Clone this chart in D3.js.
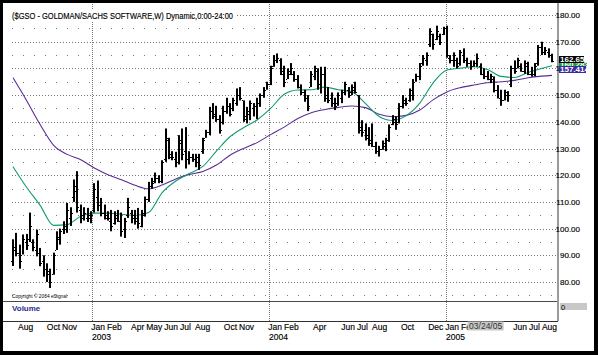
<!DOCTYPE html>
<html><head><meta charset="utf-8">
<script src="https://cdn.jsdelivr.net/npm/d3@7"></script>
<style>body{margin:0;background:#000}svg{display:block}</style>
</head><body><svg id="c" width="598" height="355"></svg>
<script>
// ---------------- DATA ----------------
const title = "($GSO - GOLDMAN/SACHS SOFTWARE,W) Dynamic,0:00-24:00";
const firstWeek = "2002-07-22"; // weekly bars, one per week
// [open, high, low, close]
const ohlc = [
[88,96,86,93],[92,98.4,89.6,91],[91,94,85,88],[90,97.8,90.3,96],[95,98,92,94],
[96,106,95,101],[95,96,91.5,93],[92,99.6,89.6,98],[91,92.75,85.9,87],[88,90,82,85],
[85,87,80,83],[84,85,77.75,80],[83,91,82.75,90],[92,99,92,97],[96,100,94,99],
[100,102.75,98,101],[100,109.6,98.4,107],[104,108,101,106],[112,118.4,110,116],[114,121.5,106,108],
[107,109,102,104],[105,108,103,106],[104,107.75,102.5,105],[104,106.5,102,105],[107,117,106,115],
[112,118,106.5,109],[109,111.5,104.6,106],[106,109,103.4,105],[104,106.5,103,104],[103,107,99,101],
[102,106.5,101.5,105],[104,107,102.5,103],[103,106,97,99],[100,104,96.5,103],[105,111.5,104,108],
[106,107,102,104],[105,107,101.5,103],[104,107.75,100,102],[101,107,100.5,106],[105,112,104.5,111],
[111,117.5,110,116],[116,119,115,117],[118,121,117,119],[119,120,117,118],[118,125.6,117,125],
[126,137.5,125,134],[133,134,126,128],[127,129,125.6,127],[126,128.75,123,125],[125,135,124,133],
[132,137.5,125.6,128],[129,138,122.5,126],[126,129,124,127],[127,128,125,126],[126,128,123,127],
[125,128,122,124],[129,134,128,133],[134,137,134,136],[136,145.6,135,144],[144,147,141,142],
[143,146,140,141],[141,142.5,135.6,137],[140,146,139,144],[144,149,143,146],[146,147,142,143],
[145,149,144,148],[147,152.5,146,150],[150,153,148,149],[148,148,140,141],[142,145.6,139.4,144],
[143,148,140.6,147],[145,147,142,146],[146,149,141,147],[147,150.6,145.6,150],[150,153,149,152],
[152,155,152,154],[154,161,153.75,160],[161,165,160.6,163],[163,165.6,162,164],[163,163.8,157.5,158],
[159,161,153,155],[156,160,156,159],[158,162,157.5,160],[158,159,155,156],[156,157.5,152.5,153],
[153,154,150,151],[151,152,147.5,149],[149,150,144,146],[153,159,153,158],[157,161,155.6,160],
[159,160,152,154],[154,160.6,150.6,158],[158,160.6,147.5,149],[150,153,147,148],[149,151,145.6,147],
[147,149,144.4,146],[147,151,146,150],[149,152,147,151],[151,155,150,154],[152,153,149,150],
[151,154,150,153],[152,155,150.6,151],[150,150,135.6,137],[138,140.6,134.4,136],[137,139.4,133,134],
[135,138,131,132],[133,139.4,130.6,131],[131,132.5,128,129],[129,131,127,130],[130,133,129.5,132],
[131,134,129,133],[133,139,132.5,138],[139,142.5,138.75,141],[140,142,137,139],[140,147,139.4,146],
[146,150,145,148],[147,149,146,147],[148,152.5,147.5,152],[150,156,148,155],[155,158,155,157],
[157,162,155.6,161],[162,165,161,164],[163,166,161,165],[169,175,168,174],[173,173,167,169],
[171,176,170.6,174],[172,173,168.75,170],[173,175.6,172.5,175],[175,176,164,165],[164,165,161.9,163],
[163,166,160.6,165],[163,164,160,161],[162,166.9,161,166],[165,167.5,162,163],[163,164,160.6,162],
[162,163,159.5,161],[161,163,160.6,162],[162,165.6,160.6,164],[161,161.9,157.5,158],[158,160,156,157],
[157,159,155.6,156],[156,158,154.5,157],[156,157,151,152],[152,153.75,148.75,149],[149,152,146,148],
[148,152,148,151],[150,151.5,147.5,150],[154,161,153,160],[160,163,158,159],[160,164,160,163],
[161,161.9,158.75,159],[159,163,158,162],[161,162.5,157.5,158],[158,160.6,156.9,158],[158,162,157,161],
[162,168.75,161,168],[168,170,165,166],[166,168,165,167],[166,167.5,164,165],[165,165.5,162.3,162.65]
];
// moving averages, sampled at these bar indices
const maIndex = [0,4,8,12,16,20,24,28,32,36,40,44,48,52,56,60,64,68,72,76,80,84,88,92,96,100,104,108,112,116,120,124,128,132,136,140,144,148,152,156,159];
const maFast = [123.2,115.5,108.7,101.2,101.5,104.6,105.8,105.8,105.4,104.9,106,113.5,117.8,120.6,123.3,129,134.4,137.8,140.7,145,150.3,151.9,152,153,152,151.2,146.8,142,140.5,142.3,147,154.7,159.4,160.1,160.6,159.6,157,156.6,158.5,160,161];
const maSlow = [156.5,148,139,131.2,127.8,125.8,122.7,120.2,118.3,116.2,114.9,116.3,118.6,120.3,121.4,123.8,127.5,130,132.2,135.2,138,141.2,143.4,144.6,145.4,145.9,145.3,142.8,141.9,142.4,144.4,148.3,151.2,152.8,153.8,154.6,155,155.5,156.5,157.1,157.4];
const priceTicks = [80,90,100,110,120,130,140,150,160,170,180];
const minorTicks = [75,85,95,105,115,125,135,145,155,165,175];
const monthLabels = [["2002-08","Aug"],["2002-10","Oct"],["2002-11","Nov"],["2003-01","Jan"],["2003-02","Feb"],
 ["2003-04","Apr"],["2003-05","May"],["2003-06","Jun"],["2003-07","Jul"],["2003-08","Aug"],["2003-10","Oct"],
 ["2003-11","Nov"],["2004-01","Jan"],["2004-02","Feb"],["2004-04","Apr"],["2004-06","Jun"],["2004-07","Jul"],
 ["2004-08","Aug"],["2004-10","Oct"],["2004-12","Dec"],["2005-01","Jan"],["2005-02","Feb"],["2005-06","Jun"],
 ["2005-07","Jul"],["2005-08","Aug"]];
const yearLabels = [["2003-01","2003"],["2004-01","2004"],["2005-01","2005"]];
const cursorDate = "2005-03-24";
const cursorLabel = "03/24/05";
const lastClose = "162.65", lastFast = "160.283", lastSlow = "157.414";

// ---------------- DRAW ----------------
const FONT = "'Liberation Sans Narrow','Liberation Sans',Arial,sans-serif";
const svg = d3.select("#c").style("font-family", FONT);
svg.append("rect").attr("width",598).attr("height",355).attr("fill","#000");
svg.append("rect").attr("x",3).attr("y",3).attr("width",591).attr("height",348).attr("fill","#fff");

const parseDay = d3.utcParse("%Y-%m-%d"), parseMonth = d3.utcParse("%Y-%m");
const t0 = parseDay(firstWeek);
const dates = ohlc.map((d,i)=>d3.utcDay.offset(t0, 7*i));
const x = d3.scaleUtc().domain([dates[0], dates[dates.length-1]]).range([13,552]);
const y = d3.scaleLinear().domain([80,180]).range([282,15]);
const AX = 558;

// horizontal grid
svg.append("g").selectAll("line").data(priceTicks).join("line")
  .attr("x1",12).attr("x2",556).attr("y1",d=>Math.round(y(d))+0.5).attr("y2",d=>Math.round(y(d))+0.5)
  .attr("stroke","#7a7a7a").attr("stroke-dasharray","1,2");
svg.append("g").selectAll("line").data(minorTicks).join("line")
  .attr("x1",12).attr("x2",556).attr("y1",d=>Math.round(y(d))+0.5).attr("y2",d=>Math.round(y(d))+0.5)
  .attr("stroke","#7a7a7a").attr("stroke-dasharray","1,10");
// year lines
svg.append("g").selectAll("line").data(yearLabels).join("line")
  .attr("x1",d=>Math.round(x(parseMonth(d[0])))+0.5).attr("x2",d=>Math.round(x(parseMonth(d[0])))+0.5)
  .attr("y1",4).attr("y2",321).attr("stroke","#7a7a7a").attr("stroke-dasharray","1,1");

// title
svg.append("rect").attr("x",9).attr("y",10).attr("width",228).attr("height",11).attr("fill","#fff");
svg.append("text").attr("x",12).attr("y",18.5).attr("font-size",8.5).attr("fill","#000")
  .attr("stroke","#000").attr("stroke-width",0.15)
  .attr("textLength",221).attr("lengthAdjust","spacingAndGlyphs").text(title);

// moving averages
const line = d3.line().x((v,i)=>x(dates[maIndex[i]])).y(v=>y(v)).curve(d3.curveMonotoneX);
svg.append("path").attr("d",line(maSlow)).attr("fill","none").attr("stroke","#5a2d96").attr("stroke-width",1.1);
svg.append("path").attr("d",line(maFast)).attr("fill","none").attr("stroke","#0f9a72").attr("stroke-width",1.1);

// OHLC bars
const bars = svg.append("g");
ohlc.forEach((d,i)=>{
  const px = Math.round(x(dates[i]));
  bars.append("rect").attr("x",px-1).attr("y",y(d[1])).attr("width",2).attr("height",Math.max(1,y(d[2])-y(d[1]))).attr("fill","#000");
  bars.append("rect").attr("x",px-2).attr("y",Math.round(y(d[0]))).attr("width",1).attr("height",1).attr("fill","#000");
  bars.append("rect").attr("x",px+1).attr("y",Math.round(y(d[3]))).attr("width",1).attr("height",1).attr("fill","#000");
});

// panel separators and axis
svg.append("line").attr("x1",3).attr("x2",AX).attr("y1",301.5).attr("y2",301.5).attr("stroke","#4a4a40");
svg.append("line").attr("x1",3).attr("x2",AX).attr("y1",321.5).attr("y2",321.5).attr("stroke","#303030");
svg.append("line").attr("x1",AX).attr("x2",AX).attr("y1",3).attr("y2",321).attr("stroke","#9a9a9a").attr("stroke-width",2);

// copyright, volume
svg.append("text").attr("x",12).attr("y",297.5).attr("font-size",5).attr("textLength",55)
  .attr("lengthAdjust","spacingAndGlyphs").text("Copyright \u00A9 2004 eSignal");
svg.append("text").attr("x",12).attr("y",311).attr("font-size",8).attr("font-weight","bold")
  .attr("fill","#2b2b8c").text("Volume");
svg.append("rect").attr("x",560).attr("y",303).attr("width",27).attr("height",7).attr("fill","#c8c8c8");
svg.append("text").attr("x",561).attr("y",309.5).attr("font-size",7.5).text("0");

// price axis labels
svg.append("g").selectAll("text").data(priceTicks).join("text")
  .attr("x",580).attr("y",d=>y(d)+3).attr("text-anchor","end").attr("font-size",8).attr("fill","#000")
  .attr("stroke","#000").attr("stroke-width",0.15)
  .text(d=>d.toFixed(2));

// last value boxes
function valBox(yy,h,w,bg,txt){
  svg.append("rect").attr("x",559).attr("y",yy).attr("width",w).attr("height",h).attr("fill",bg);
  svg.append("text").attr("x",560).attr("y",yy+h-0.7).attr("font-size",8).attr("font-weight","bold").attr("fill","#fff").text(txt);
}
valBox(62.5,5,28,"#129a3a",lastFast);
valBox(56,7,25,"#000",lastClose);
valBox(66,7,27,"#3a2a9a",lastSlow);

// month labels (placed right to left so they never collide)
const mg = svg.append("g").attr("font-size",8.5).attr("fill","#000").attr("stroke","#000").attr("stroke-width",0.15);
let limit = AX - 1;
monthLabels.slice().reverse().forEach(d=>{
  let lx = Math.round(x(parseMonth(d[0])));
  const t = mg.append("text").attr("y",329.5).text(d[1]);
  const w = t.node().getComputedTextLength();
  if (lx + w > limit) lx = limit - w;
  t.attr("x",lx);
  limit = lx - 2;
});
svg.append("g").attr("font-size",8.5).attr("stroke","#000").attr("stroke-width",0.15)
  .selectAll("text").data(yearLabels).join("text")
  .attr("x",d=>Math.round(x(parseMonth(d[0])))).attr("y",339.5).text(d=>d[1]);

// cursor date box
const cx = x(parseDay(cursorDate));
svg.append("rect").attr("x",cx-18).attr("y",321.5).attr("width",36).attr("height",9).attr("fill","#c8c8c8");
svg.append("text").attr("x",cx).attr("y",329).attr("text-anchor","middle").attr("font-size",8.5).attr("fill","#333").text(cursorLabel);
</script></body></html>
